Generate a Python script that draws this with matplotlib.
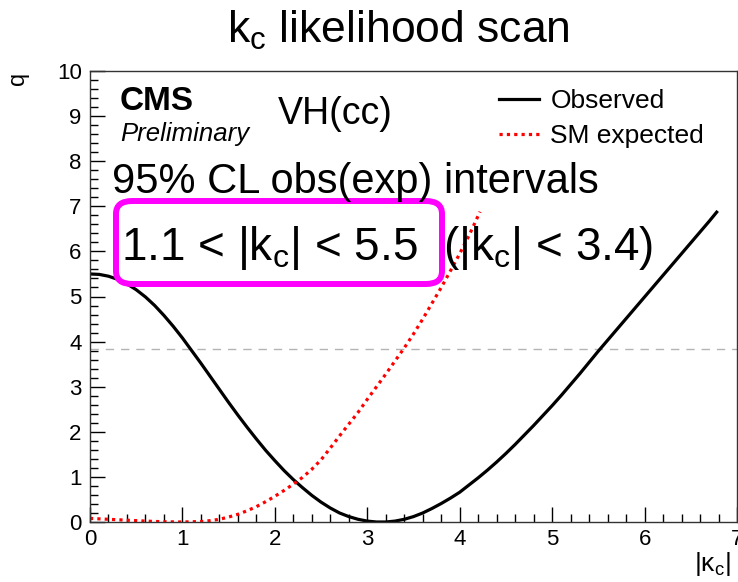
import matplotlib
matplotlib.use("Agg")
import matplotlib.pyplot as plt
from matplotlib.patches import FancyBboxPatch
from matplotlib.ticker import MultipleLocator

plt.rcParams['font.family'] = ['Liberation Sans', 'DejaVu Sans']
plt.rcParams['mathtext.fontset'] = 'custom'
plt.rcParams['mathtext.rm'] = 'Liberation Sans'
plt.rcParams['mathtext.it'] = 'Liberation Sans:italic'
plt.rcParams['mathtext.bf'] = 'Liberation Sans:bold'

# observed scan
obs_k = [0.0, 0.1, 0.2, 0.3, 0.4, 0.5, 0.6, 0.7, 0.8, 0.9, 1.0, 1.1, 1.2, 1.3, 1.4, 1.5,
         1.6, 1.7, 1.8, 1.9, 2.0, 2.1, 2.2, 2.3, 2.4, 2.5, 2.6, 2.7, 2.8, 2.9, 3.0, 3.1,
         3.2, 3.3, 3.4, 3.5, 3.6, 3.7, 3.8, 3.9, 4.0, 4.1, 4.2, 4.3, 4.4, 4.5, 4.6, 4.7,
         4.8, 4.9, 5.0, 5.1, 5.2, 5.3, 5.4, 5.5, 5.6, 5.7, 5.8, 5.9, 6.0, 6.1, 6.2, 6.3,
         6.4, 6.5, 6.6, 6.7, 6.78]
obs_q = [5.50, 5.49, 5.45, 5.38, 5.28, 5.15, 4.99, 4.80, 4.58, 4.34, 4.08, 3.80, 3.52, 3.23,
         2.94, 2.65, 2.37, 2.10, 1.84, 1.59, 1.36, 1.14, 0.94, 0.76, 0.59, 0.44, 0.31, 0.20,
         0.12, 0.06, 0.02, 0.0, 0.0, 0.02, 0.06, 0.12, 0.20, 0.30, 0.41, 0.53, 0.66, 0.82,
         0.98, 1.15, 1.33, 1.52, 1.72, 1.93, 2.14, 2.36, 2.58, 2.81, 3.05, 3.29, 3.54, 3.79,
         4.03, 4.27, 4.51, 4.75, 4.99, 5.23, 5.47, 5.71, 5.95, 6.19, 6.43, 6.67, 6.87]

# SM expected scan
exp_k = [0.0, 0.2, 0.4, 0.6, 0.8, 1.0, 1.2, 1.3, 1.4, 1.5, 1.6, 1.7, 1.8, 1.9, 2.0, 2.1,
         2.2, 2.3, 2.4, 2.5, 2.6, 2.7, 2.8, 2.9, 3.0, 3.1, 3.2, 3.3, 3.4, 3.5, 3.6, 3.7,
         3.8, 3.9, 4.0, 4.1, 4.22]
exp_q = [0.08, 0.06, 0.04, 0.02, 0.005, 0.0, 0.01, 0.03, 0.06, 0.11, 0.17, 0.25, 0.34, 0.45,
         0.57, 0.70, 0.84, 0.99, 1.17, 1.38, 1.64, 1.91, 2.17, 2.43, 2.72, 3.0, 3.28, 3.57,
         3.86, 4.17, 4.50, 4.85, 5.20, 5.57, 5.95, 6.35, 6.88]

threshold = 3.84

fig = plt.figure(figsize=(7.38, 5.82), dpi=100)
ax = fig.add_axes([90/738, 60/582, 647/738, 451/582])

ax.axhline(threshold, color='#b4b4b4', lw=1.0, ls=(0, (6, 5)))
ax.plot(obs_k, obs_q, color='black', lw=2.3, label='Observed')
ax.plot(exp_k, exp_q, color='red', lw=2.3, ls=(0, (1, 1.3)), label='SM expected')

ax.set_xlim(0, 7)
ax.set_ylim(0, 10)
ax.xaxis.set_major_locator(MultipleLocator(1))
ax.xaxis.set_minor_locator(MultipleLocator(0.2))
ax.yaxis.set_major_locator(MultipleLocator(1))
ax.yaxis.set_minor_locator(MultipleLocator(0.2))
ax.tick_params(which='both', direction='in', labelsize=16, width=1)
ax.tick_params(which='major', length=11)
ax.tick_params(which='minor', length=5.5)
ax.tick_params(axis='x', pad=5)
ax.tick_params(axis='y', pad=6)
for s in ax.spines.values():
    s.set_linewidth(1.0)
    s.set_color('#333333')

fig.text(18/738, 1 - 72/582, 'q', fontsize=17, rotation=90, ha='center', va='top')
fig.text(731/738, 1 - 578/582, r'$|\mathrm{\kappa_c}|$', fontsize=19, ha='right', va='bottom')

fig.text(398/738, 1 - 43/582, r'k$_{\rm c}$ likelihood scan', fontsize=32, ha='center',
         va='baseline')

fig.text(120/738, 1 - 110/582, 'CMS', fontsize=24, fontweight='bold', va='baseline')
fig.text(120/738, 1 - 141/582, 'Preliminary', fontsize=18.5, style='italic', va='baseline')
fig.text(278/738, 1 - 124/582, 'VH(cc)', fontsize=27, va='baseline')

fig.text(112/738, 1 - 193/582, '95% CL obs(exp) intervals', fontsize=30, va='baseline')
fig.text(121/738, 1 - 260/582, r'1.1 < |k$_{\rm c}$| < 5.5', fontsize=33, va='baseline')
fig.text(443/738, 1 - 260/582, r'(|k$_{\rm c}$| < 3.4)', fontsize=33, va='baseline')

box = FancyBboxPatch((116/738, 1 - 284/582), 326/738, 83/582,
                     boxstyle='round,pad=0,rounding_size=0.022', transform=fig.transFigure,
                     fill=False, edgecolor='#ff00ff', lw=4.3)
fig.add_artist(box)

leg = ax.legend(loc='upper left', bbox_to_anchor=(499/738, 1 - 89/582),
                bbox_transform=fig.transFigure, frameon=False, fontsize=19,
                borderpad=0, borderaxespad=0, handlelength=1.5, handletextpad=0.45,
                labelspacing=0.42)

fig.savefig('out.png', dpi=100)
